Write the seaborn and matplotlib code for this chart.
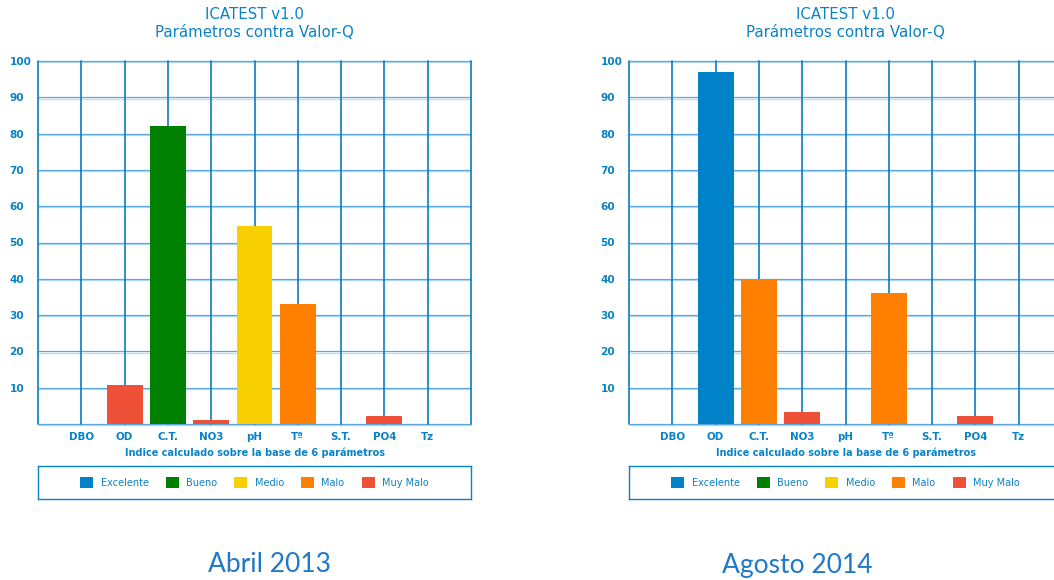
import pandas as pd
import matplotlib
matplotlib.use("Agg")
import matplotlib.pyplot as plt
from matplotlib.patches import Patch
from matplotlib.transforms import offset_copy
import seaborn as sns

# Parameters and quality classes
parametros = ["DBO", "OD", "C.T.", "NO3", "pH", "Tª", "S.T.", "PO4", "Tz"]
niveles = ["Excelente", "Bueno", "Medio", "Malo", "Muy Malo"]
colores = ["#0082C8", "#008000", "#F8CF00", "#FF8000", "#EE5038"]

# Q-values per parameter (0 = not measured)
valores_abril = [0, 10.7, 82, 1.1, 54.5, 33, 0, 2.2, 0]
calidad_abril = [None, "Muy Malo", "Bueno", "Muy Malo", "Medio", "Malo", None, "Muy Malo", None]

valores_agosto = [0, 97, 40, 3.4, 0, 36, 0, 2.2, 0]
calidad_agosto = [None, "Excelente", "Malo", "Muy Malo", None, "Malo", None, "Muy Malo", None]

yticks = [10, 20, 30, 40, 50, 60, 70, 80, 90, 100]

titulo = "ICATEST v1.0\nParámetros contra Valor-Q"
eje_x = "Indice calculado sobre la base de 6 parámetros"
campanas = ["Abril 2013", "Agosto 2014"]

AZUL = "#0A82C6"
GRID_DARK = "#5DA9DC"
GRID_LIGHT = "#B6DCF2"

sns.set_theme(style="white")
plt.rcParams["font.family"] = ["DejaVu Sans"]

W, H = 1054, 580
fig = plt.figure(figsize=(W / 100, H / 100), dpi=100)
paleta = dict(zip(niveles, colores))


def px_axes(x0, y0, x1, y1):
    return fig.add_axes([x0 / W, 1 - y1 / H, (x1 - x0) / W, (y1 - y0) / H])


def panel(x0, valores, calidad, campana, cx):
    ax = px_axes(x0, 61, x0 + 433, 424)
    df = pd.DataFrame({"param": parametros, "valor": valores, "calidad": calidad})
    df = df[df["valor"] > 0]
    sns.barplot(data=df, x="param", y="valor", hue="calidad", order=parametros,
                hue_order=niveles, palette=paleta, dodge=False, width=0.83,
                saturation=1, legend=False, ax=ax, zorder=2,
                linewidth=0, edgecolor="none")
    ax.set_xlim(-1, 9)
    ax.set_ylim(0, 100)

    # horizontal double grid lines
    base = ax.get_yaxis_transform()
    below = offset_copy(base, fig=fig, y=-1.2, units="dots")
    for y in [0] + yticks:
        ax.plot([0, 1], [y, y], transform=base, color=GRID_DARK, lw=0.9,
                zorder=0.6, clip_on=False, solid_capstyle="butt")
        ax.plot([0, 1], [y, y], transform=below, color=GRID_LIGHT, lw=0.9,
                zorder=0.5, clip_on=False, solid_capstyle="butt")
    # vertical grid lines
    for x in range(-1, 10):
        ax.axvline(x, color="#0A7CC2", lw=1.2, zorder=0.7, clip_on=False)

    for s in ax.spines.values():
        s.set_visible(False)

    ax.set_yticks(yticks)
    ax.set_yticklabels([str(v) for v in yticks], ha="left", fontsize=7.6,
                       fontweight="bold", color=AZUL)
    ax.tick_params(axis="y", length=0, pad=20.5)
    ax.set_xticks(range(len(parametros)))
    ax.set_xticklabels(parametros, fontsize=7.4, fontweight="bold", color=AZUL)
    ax.tick_params(axis="x", length=0, pad=5.5)
    ax.set_xlabel("")
    ax.set_ylabel("")

    ax.text(0.5, 1.102, titulo, transform=ax.transAxes, ha="center", va="center",
            fontsize=10.8, color=AZUL, linespacing=1.25)
    ax.text(0.5, -29 / 363, eje_x, transform=ax.transAxes, ha="center",
            va="center", fontsize=7, fontweight="bold", color=AZUL)

    # legend box
    lg = px_axes(x0, 466, x0 + 433, 499)
    lg.set_xticks([])
    lg.set_yticks([])
    lg.set_facecolor("white")
    for s in lg.spines.values():
        s.set_color(AZUL)
        s.set_linewidth(1.0)
    handles = [Patch(facecolor=c, edgecolor="none", label=n)
               for n, c in zip(niveles, colores)]
    leg = lg.legend(handles=handles, loc="center", ncol=5, frameon=False,
                    fontsize=7, handlelength=1.35, handleheight=1.35,
                    handletextpad=0.75, columnspacing=1.75)
    for t in leg.get_texts():
        t.set_color(AZUL)

    fig.text(cx / W, 1 - 565 / H, campana, ha="center", va="center",
             fontsize=19, color="#1F78C8", family=["Lato", "DejaVu Sans"])


panel(38, valores_abril, calidad_abril, campanas[0], 270)
panel(629, valores_agosto, calidad_agosto, campanas[1], 797)

fig.savefig("out.png", dpi=100, facecolor="white")
